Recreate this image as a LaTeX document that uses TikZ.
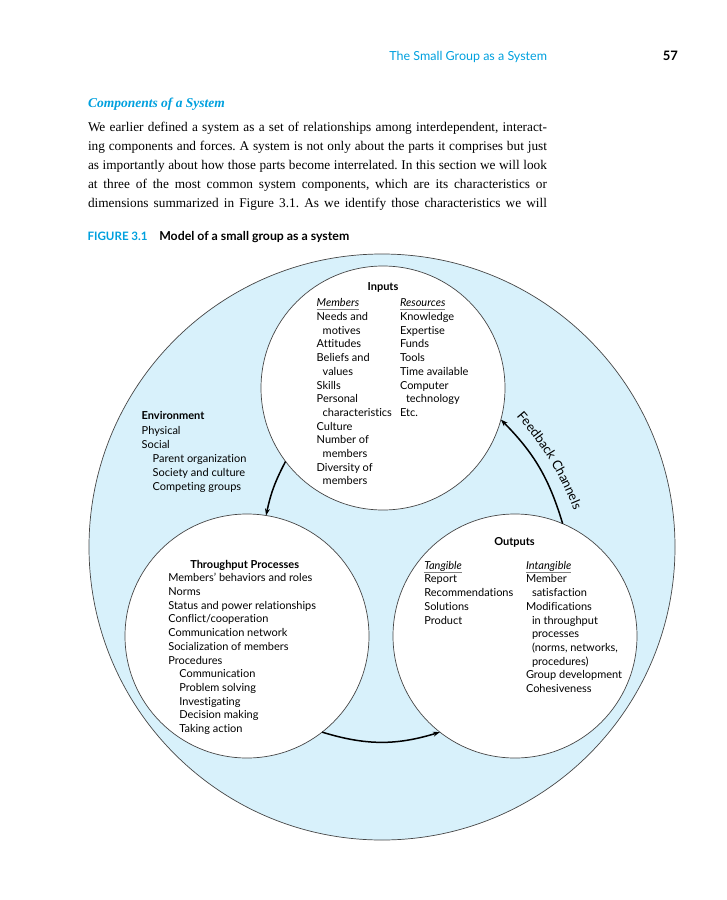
\documentclass[tikz,border=0pt]{standalone}
\usepackage{fontspec}
\setmainfont{Lato}[Ligatures=NoCommon]
\newfontfamily\bookfont{Liberation Serif}
\usepackage{xcolor}
\usetikzlibrary{arrows.meta,decorations.text}
\definecolor{headcyan}{RGB}{0,160,222}
\definecolor{envblue}{RGB}{216,241,251}
\definecolor{rimgray}{RGB}{70,70,70}
\newcommand{\ulhead}[1]{\setbox0\hbox{\itshape #1}\rlap{\color{gray}\rule[-2.8pt]{\wd0}{0.5pt}}\box0}
\newcommand{\ind}{\hspace*{6pt}}
\newcommand{\subind}{\hspace*{11pt}}
\newcommand{\lines}[1]{\begin{tabular}[t]{@{}l@{}}#1\end{tabular}}
\frenchspacing

\begin{document}
\begin{tikzpicture}[x=1pt,y=-1pt,>={Stealth[length=7pt,width=5pt]},
	every node/.style={inner sep=0pt,outer sep=0pt},
	ring/.style={circle,draw=rimgray,line width=0.7pt,minimum size=244pt},
	txt/.style={anchor=base west,font=\fontsize{11}{13.7}\selectfont},
	ttl/.style={anchor=base,font=\fontsize{11}{13.7}\selectfont\bfseries}]
	\useasboundingbox (0,0) rectangle (727,900);
	%
	%  PAGE TEXT
	%
	\node[anchor=base east,text=headcyan,font=\fontsize{12.5}{14}\selectfont] (head) at (547,60) {The Small Group as a System};
	\node[anchor=base east,font=\fontsize{13}{14}\selectfont\bfseries] (page) at (678,60) {57};
	\node[anchor=base west,text=headcyan,font=\bookfont\fontsize{13.5}{16}\selectfont\bfseries\itshape] (sect) at (88,107) {Components of a System};
	\node[anchor=base west,font=\bookfont\fontsize{13.3}{19}\selectfont] (body) at (88,131) {\lines{%
		\makebox[459pt][s]{We earlier defined a system as a set of relationships among interdependent, interact-}\\
		\makebox[459pt][s]{ing components and forces. A system is not only about the parts it comprises but just}\\
		\makebox[459pt][s]{as importantly about how those parts become interrelated. In this section we will look}\\
		\makebox[459pt][s]{at three of the most common system components, which are its characteristics or}\\
		\makebox[459pt][s]{dimensions summarized in Figure 3.1. As we identify those characteristics we will}}};
	\node[anchor=base west,text=headcyan,font=\fontsize{11.6}{13}\selectfont\bfseries] (fig) at (87.5,240.5) {FIGURE 3.1};
	\node[anchor=base west,font=\fontsize{12.3}{13}\selectfont\bfseries] (cap) at (159.3,240.5) {Model of a small group as a system};
	%
	%  CIRCLES
	%
	\node[circle,draw=rimgray,line width=0.7pt,fill=envblue,minimum size=586pt] (environment) at (382,547) {};
	\node[ring,fill=white] (inputs) at (383,388) {};
	\node[ring,fill=white] (throughput) at (247,636) {};
	\node[ring,fill=white] (outputs) at (515,636) {};
	%
	%  ARROWS
	%
	\path[->,line width=1.5pt]
	(inputs.217) edge[bend right=8] (throughput.81.5)
	(throughput.308) edge[bend right=17] (outputs.232.4)
	(outputs.67.8) edge[bend right=14] (inputs.345);
	\coordinate (fbstart) at (511,410);
	\coordinate (fbend) at (577,518);
	\path[decorate,decoration={text along path,text align=center,
		text={|\fontsize{13}{13}\selectfont|Feedback Channels}}]
	(fbstart) to[bend left=10] (fbend);
	%
	%  ENVIRONMENT
	%
	\node[anchor=base west,font=\fontsize{11}{13.7}\selectfont\bfseries] (envttl) at (141.7,419) {Environment};
	\node[txt,font=\fontsize{11}{13.9}\selectfont] (envtxt) at (141.7,434.5) {\lines{Physical\\Social\\\subind Parent organization\\\subind Society and culture\\\subind Competing groups}};
	%
	%  INPUTS
	%
	\node[ttl] (inttl) at (383,290) {Inputs};
	\node[txt] (members) at (316.7,306.8) {\lines{\ulhead{Members}\\Needs and\\\ind motives\\Attitudes\\Beliefs and\\\ind values\\Skills\\Personal\\\ind characteristics\\Culture\\Number of\\\ind members\\Diversity of\\\ind members}};
	\node[txt] (resources) at (400,306.8) {\lines{\ulhead{Resources}\\Knowledge\\Expertise\\Funds\\Tools\\Time available\\Computer\\\ind technology\\Etc.}};
	%
	%  THROUGHPUT
	%
	\node[ttl] (thrttl) at (244.7,568.5) {Throughput Processes};
	\node[txt] (thrtxt) at (168.3,581.8) {\lines{Members' behaviors and roles\\Norms\\Status and power relationships\\Conflict/cooperation\\Communication network\\Socialization of members\\Procedures\\\subind Communication\\\subind Problem solving\\\subind Investigating\\\subind Decision making\\\subind Taking action}};
	%
	%  OUTPUTS
	%
	\node[ttl] (outttl) at (514.5,545) {Outputs};
	\node[txt] (tangible) at (424.3,569.2) {\lines{\ulhead{Tangible}\\Report\\Recommendations\\Solutions\\Product}};
	\node[txt] (intangible) at (526,569.2) {\lines{\ulhead{Intangible}\\Member\\\ind satisfaction\\Modifications\\\ind in throughput\\\ind processes\\\ind (norms, networks,\\\ind procedures)\\Group development\\Cohesiveness}};
\end{tikzpicture}
\end{document}
